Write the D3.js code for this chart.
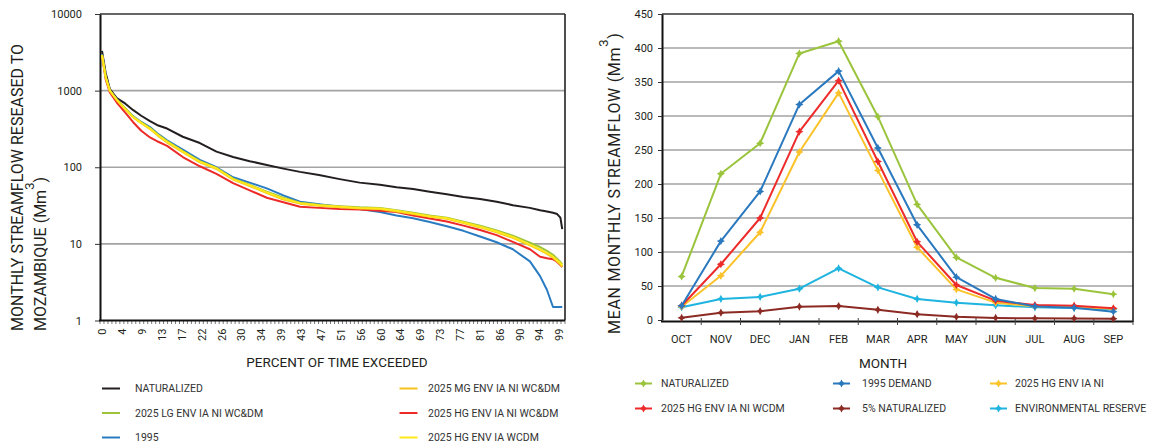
<!DOCTYPE html>
<html>
<head>
<meta charset="utf-8">
<script src="https://cdn.jsdelivr.net/npm/d3@7"></script>
<style>
  body { margin: 0; background: #fff; }
  svg text { font-family: Roboto, "Liberation Sans", sans-serif; fill: #231f20; }
</style>
</head>
<body>
<svg id="chart" width="1152" height="448"></svg>
<script>
// ---------- Flow duration curves (left) ----------
const exceedPct = [0, 0.8, 1.7, 3.2, 5, 6.7, 8.5, 10.4, 12.2, 14.1, 17.5, 21.2, 24.8, 28.4, 32, 35.7, 39.3, 42.9, 47, 51.5, 55.8, 60.2, 63.8, 67.4, 71, 74.7, 78.3, 81.9, 85.5, 89, 92.7, 94.9, 96.4, 97.7, 98.6, 99.3, 99.7];
const fdcNaturalized = [3300, 1700, 1050, 800, 680, 560, 470, 400, 350, 320, 250, 207, 160, 136, 120, 107, 96, 87, 79, 70, 63, 59, 55, 52, 48, 44.5, 41, 38.5, 35.5, 32, 29.5, 27.5, 26.5, 25.5, 24.5, 22, 15.6];
const fdcLgWcDm = [2950, 1520, 1010, 770, 590, 462, 385, 325, 265, 220, 163, 120, 98, 71, 59, 48, 40, 34.5, 32.5, 31, 30, 29.5, 27.5, 25.5, 23.5, 22, 19.5, 17.2, 15, 12.8, 10.4, 9.1, 8.1, 7.2, 6.4, 5.8, 5.4];
const fdc1995 = [3000, 1500, 1000, 770, 590, 465, 390, 335, 270, 225, 170, 125, 100, 74, 63, 53, 43, 35.5, 33, 30.5, 28.5, 26, 23.5, 21.6, 19.3, 17, 14.8, 12.5, 10.5, 8.5, 5.9, 3.8, 2.5, 1.5, 1.5, 1.5, 1.5];
const fdcMgWcDm = [2900, 1480, 990, 750, 570, 450, 375, 315, 255, 210, 157, 116, 95, 69, 57, 46, 38, 33.5, 31.5, 30, 29, 28.5, 26.5, 24.5, 22.6, 21.2, 18.7, 16.4, 14.2, 12, 9.6, 8.3, 7.4, 6.6, 5.9, 5.4, 5.0];
const fdcHgNiWcDm = [2900, 1400, 950, 700, 520, 390, 300, 245, 215, 190, 136, 103, 82, 62, 50, 40, 35, 30.5, 29.5, 28.5, 28, 27, 26, 23.5, 21.5, 19.6, 17.3, 15.2, 13, 10.6, 8.5, 6.8, 6.5, 6.3, 5.8, 5.3, 5.0];
const fdcHgWcdm = [2900, 1500, 1000, 760, 580, 455, 380, 320, 260, 215, 160, 118, 97, 70, 58, 47, 39, 34, 32, 30.5, 29.5, 29, 27, 25, 23, 21.6, 19, 16.7, 14.5, 12.3, 9.8, 8.5, 7.6, 6.8, 6.1, 5.6, 5.2];
const pctTickLabels = ["0","4","9","13","17","22","26","30","34","39","43","47","51","56","60","64","69","73","77","81","86","90","94","99"];
const logTicks = [1, 10, 100, 1000, 10000];

// ---------- Mean monthly streamflow (right) ----------
const months = ["OCT","NOV","DEC","JAN","FEB","MAR","APR","MAY","JUN","JUL","AUG","SEP"];
const mmNaturalized = [64, 215, 260, 392, 410, 299, 170, 92, 62, 47, 46, 38];
const mm1995Demand = [21, 116, 189, 317, 366, 253, 140, 63, 31, 20, 18, 12.3];
const mmHgNi = [19.6, 65, 129, 247, 334, 220, 107, 45, 25.5, 20, 19, 16.5];
const mmHgNiWcdm = [21, 82, 150, 277, 352, 233, 115, 51.5, 28.4, 22, 21, 17.2];
const mmFivePct = [3.2, 10.7, 13, 19.6, 20.5, 15, 8.5, 4.6, 3.1, 2.4, 2.3, 1.9];
const mmEnvReserve = [18.6, 31, 34, 46, 76, 48, 31, 25.5, 21.6, 18.6, 17.6, 15.7];
const flowTicks = [0, 50, 100, 150, 200, 250, 300, 350, 400, 450];

const svg = d3.select("#chart");
const GRID = "#a3a3a3";
const TICK_FS = "11px", LEG_FS = "10.5px", TITLE_FS = "13.5px", YTITLE_FS = "16px";

// ===================== LEFT PANEL =====================
const L = { x0: 100, x1: 565, y0: 14, y1: 320.5 };
const yLog = d3.scaleLog().domain([1, 10000]).range([L.y1, L.y0]);
const xPct = d3.scaleLinear().domain([0, 99]).range([102, 559]);
const xPctTick = d3.scalePoint().domain(pctTickLabels).range([102, 559]);
const minorBand = d3.scaleBand().domain(d3.range(117)).range([L.x0, L.x1]);

const gl = svg.append("g");

// horizontal gridlines
gl.selectAll("line.grid").data(logTicks.filter(v => v > 1 && v < 10000)).join("line")
  .attr("x1", L.x0).attr("x2", L.x1)
  .attr("y1", d => yLog(d)).attr("y2", d => yLog(d))
  .attr("stroke", GRID).attr("stroke-width", 1.6);

// frame (top and right)
gl.append("line").attr("x1", L.x0).attr("x2", L.x1).attr("y1", L.y0).attr("y2", L.y0)
  .attr("stroke", "#333").attr("stroke-width", 1.4);
gl.append("line").attr("x1", L.x1).attr("x2", L.x1).attr("y1", L.y0).attr("y2", L.y1)
  .attr("stroke", "#222").attr("stroke-width", 1.6);

// minor ticks along the bottom axis
gl.selectAll("line.minor").data(minorBand.domain().concat([117])).join("line")
  .attr("x1", d => d === 117 ? L.x1 : minorBand(d)).attr("x2", d => d === 117 ? L.x1 : minorBand(d))
  .attr("y1", L.y1).attr("y2", L.y1 + 3.5)
  .attr("stroke", "#555").attr("stroke-width", 0.8);

// y axis
const yAxisL = gl.append("g").attr("transform", `translate(${L.x0},0)`)
  .call(d3.axisLeft(yLog).tickValues(logTicks).tickFormat(d3.format("d")).tickSize(5).tickSizeOuter(0));
yAxisL.select(".domain").attr("stroke", "#111").attr("stroke-width", 2);
yAxisL.selectAll(".tick line").attr("stroke", "#333").attr("stroke-width", 1);
yAxisL.selectAll(".tick text").attr("x", -18).style("font-size", TICK_FS);

// x axis
const xAxisL = gl.append("g").attr("transform", `translate(0,${L.y1})`)
  .call(d3.axisBottom(xPctTick).tickSize(0).tickSizeOuter(0));
xAxisL.select(".domain").remove();
gl.append("line").attr("x1", L.x0 - 1).attr("x2", L.x1).attr("y1", L.y1).attr("y2", L.y1)
  .attr("stroke", "#111").attr("stroke-width", 2);
xAxisL.selectAll(".tick text")
  .attr("transform", "rotate(-90)").attr("x", -8).attr("y", 0).attr("dy", "0.35em")
  .attr("text-anchor", "end").style("font-size", TICK_FS);

// curves
const fdcSeries = [
  { name: "NATURALIZED", values: fdcNaturalized, color: "#231f20" },
  { name: "2025 LG ENV IA NI WC&DM", values: fdcLgWcDm, color: "#9dc33b" },
  { name: "1995", values: fdc1995, color: "#2a7cc2" },
  { name: "2025 MG ENV IA NI WC&DM", values: fdcMgWcDm, color: "#f7c21b" },
  { name: "2025 HG ENV IA NI WC&DM", values: fdcHgNiWcDm, color: "#ec2a27" },
  { name: "2025 HG ENV IA WCDM", values: fdcHgWcdm, color: "#ffe81a" }
];
const drawOrder = [0, 2, 4, 1, 3, 5];
const fdcLine = d3.line().x((d, i) => xPct(exceedPct[i])).y(d => yLog(d));
gl.selectAll("path.fdc").data(drawOrder.map(i => fdcSeries[i])).join("path")
  .attr("d", s => fdcLine(s.values))
  .attr("fill", "none").attr("stroke", s => s.color).attr("stroke-width", 2)
  .attr("stroke-linejoin", "round");

// axis titles
gl.append("text").attr("x", 337).attr("y", 367).attr("text-anchor", "middle")
  .style("font-size", TITLE_FS).text("PERCENT OF TIME EXCEEDED");
gl.append("text").attr("transform", "translate(23,331) rotate(-90)")
  .style("font-size", YTITLE_FS)
  .text("MONTHLY STREAMFLOW RESEASED TO");
const t2 = gl.append("text").attr("transform", "translate(46,331) rotate(-90)")
  .style("font-size", YTITLE_FS);
t2.append("tspan").text("MOZAMBIQUE (Mm");
t2.append("tspan").attr("dy", -12).style("font-size", "13px").text("3");
t2.append("tspan").attr("dy", 12).text(")");

// legend
const legL = gl.append("g");
fdcSeries.forEach((s, i) => {
  const col = Math.floor(i / 3), row = i % 3;
  const lx = col === 0 ? 102 : 399.5, ty = 388.5 + row * 24.5;
  legL.append("line").attr("x1", lx).attr("x2", lx + 18).attr("y1", ty).attr("y2", ty)
    .attr("stroke", s.color).attr("stroke-width", 2);
  legL.append("text").attr("x", lx + (col === 0 ? 33 : 28.5)).attr("y", ty).attr("dy", "0.35em")
    .style("font-size", LEG_FS).style("fill", "#333").text(s.name);
});

// ===================== RIGHT PANEL =====================
const R = { x0: 662, x1: 1133, y0: 14, y1: 320 };
const xMon = d3.scaleBand().domain(months).range([R.x0, R.x1]);
const yFlow = d3.scaleLinear().domain([0, 450]).range([R.y1, R.y0]);
const cx = m => xMon(m) + xMon.bandwidth() / 2;

const gr = svg.append("g");

gr.selectAll("line.grid").data(flowTicks.filter(v => v > 0 && v < 450)).join("line")
  .attr("x1", R.x0).attr("x2", R.x1)
  .attr("y1", d => yFlow(d)).attr("y2", d => yFlow(d))
  .attr("stroke", GRID).attr("stroke-width", 1.6);
gr.append("line").attr("x1", R.x0).attr("x2", R.x1).attr("y1", R.y0).attr("y2", R.y0)
  .attr("stroke", "#333").attr("stroke-width", 1.4);
gr.append("line").attr("x1", R.x1).attr("x2", R.x1).attr("y1", R.y0).attr("y2", R.y1 + 2)
  .attr("stroke", "#222").attr("stroke-width", 1.6);

const yAxisR = gr.append("g").attr("transform", `translate(${R.x0},0)`)
  .call(d3.axisLeft(yFlow).tickValues(flowTicks).tickSize(4).tickSizeOuter(0));
yAxisR.select(".domain").attr("stroke", "#111").attr("stroke-width", 2);
yAxisR.selectAll(".tick line").attr("stroke", "#333");
yAxisR.selectAll(".tick text").attr("x", -9).style("font-size", TICK_FS);

// bottom axis with boundary ticks
gr.append("line").attr("x1", R.x0 - 1).attr("x2", R.x1).attr("y1", R.y1 + 1.5).attr("y2", R.y1 + 1.5)
  .attr("stroke", "#111").attr("stroke-width", 2);
gr.selectAll("line.mtick").data(months.slice(1).concat(["END"])).join("line")
  .attr("x1", d => d === "END" ? R.x1 : xMon(d)).attr("x2", d => d === "END" ? R.x1 : xMon(d))
  .attr("y1", R.y1 - 2).attr("y2", R.y1 + 5)
  .attr("stroke", "#444").attr("stroke-width", 1);
gr.selectAll("text.month").data(months).join("text")
  .attr("x", d => cx(d)).attr("y", 343).attr("text-anchor", "middle")
  .style("font-size", TICK_FS).text(d => d);

const star4 = {
  draw(ctx, size) {
    const r = Math.sqrt(size) * 0.75, q = r * 0.35;
    ctx.moveTo(0, -r); ctx.lineTo(q, -q); ctx.lineTo(r, 0); ctx.lineTo(q, q);
    ctx.lineTo(0, r); ctx.lineTo(-q, q); ctx.lineTo(-r, 0); ctx.lineTo(-q, -q); ctx.closePath();
  }
};
const marker = d3.symbol().type(star4).size(30);

const mmSeries = [
  { name: "NATURALIZED", values: mmNaturalized, color: "#9bc43d" },
  { name: "1995 DEMAND", values: mm1995Demand, color: "#2a78be" },
  { name: "2025 HG ENV IA NI", values: mmHgNi, color: "#fbc22a" },
  { name: "2025 HG ENV IA NI WCDM", values: mmHgNiWcdm, color: "#ec2b2a" },
  { name: "5% NATURALIZED", values: mmFivePct, color: "#8c2a24" },
  { name: "ENVIRONMENTAL RESERVE", values: mmEnvReserve, color: "#1eb4df" }
];
const mmOrder = [0, 4, 5, 2, 3, 1];
const mmLine = d3.line().x((d, i) => cx(months[i])).y(d => yFlow(d));
const sg = gr.selectAll("g.series").data(mmOrder.map(i => mmSeries[i])).join("g");
sg.append("path").attr("d", s => mmLine(s.values))
  .attr("fill", "none").attr("stroke", s => s.color).attr("stroke-width", 2)
  .attr("stroke-linejoin", "round");
sg.selectAll("path.mk").data(s => s.values.map((v, i) => ({ v, i, c: s.color }))).join("path")
  .attr("transform", d => `translate(${cx(months[d.i])},${yFlow(d.v)})`)
  .attr("d", marker).attr("fill", d => d.c);

gr.append("text").attr("x", 883).attr("y", 368).attr("text-anchor", "middle")
  .style("font-size", TITLE_FS).text("MONTH");
const t3 = gr.append("text").attr("transform", "translate(620,334) rotate(-90)")
  .style("font-size", YTITLE_FS).style("letter-spacing", "0.7px");
t3.append("tspan").text("MEAN MONTHLY STREAMFLOW (Mm");
t3.append("tspan").attr("dy", -12).style("font-size", "13px").text("3");
t3.append("tspan").attr("dy", 12).text(")");

const legR = gr.append("g");
const colX = [635, 833, 990], colT = [661, 862, 1015];
mmSeries.forEach((s, i) => {
  const col = i % 3, row = Math.floor(i / 3);
  const ty = 383.5 + row * 25;
  legR.append("line").attr("x1", colX[col]).attr("x2", colX[col] + 17).attr("y1", ty).attr("y2", ty)
    .attr("stroke", s.color).attr("stroke-width", 2);
  legR.append("path").attr("transform", `translate(${colX[col] + 8.5},${ty})`)
    .attr("d", marker).attr("fill", s.color);
  legR.append("text").attr("x", colT[col]).attr("y", ty).attr("dy", "0.35em")
    .style("font-size", LEG_FS).style("fill", "#333").text(s.name);
});
</script>
</body>
</html>
